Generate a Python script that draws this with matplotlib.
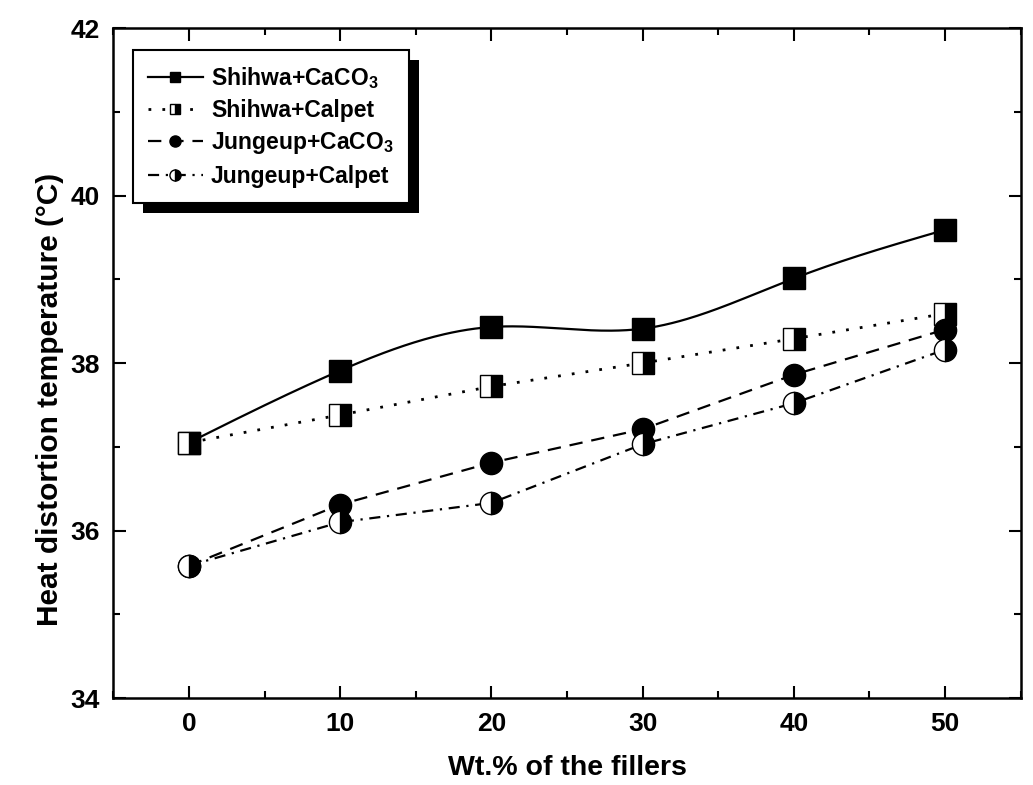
import numpy as np
import matplotlib
matplotlib.use("Agg")
import matplotlib.pyplot as plt
from matplotlib.patches import Rectangle

plt.rcParams['font.family'] = ['Liberation Sans', 'DejaVu Sans']
plt.rcParams['font.weight'] = 'bold'
plt.rcParams['mathtext.default'] = 'regular'

wt = [0, 10, 20, 30, 40, 50]
shihwa_caco3 = [37.05, 37.91, 38.43, 38.41, 39.01, 39.59]
shihwa_calpet = [37.05, 37.38, 37.72, 38.00, 38.29, 38.59]
jungeup_caco3 = [35.58, 36.31, 36.81, 37.21, 37.86, 38.40]
jungeup_calpet = [35.58, 36.10, 36.33, 37.03, 37.52, 38.16]

labels = [r'Shihwa+CaCO$_3$', 'Shihwa+Calpet', r'Jungeup+CaCO$_3$', 'Jungeup+Calpet']
x_ticks = [0, 10, 20, 30, 40, 50]
y_ticks = [34, 36, 38, 40, 42]


def natural_spline(x, y, n=300):
    x = np.asarray(x, float); y = np.asarray(y, float)
    m = len(x); h = np.diff(x)
    A = np.zeros((m, m)); b = np.zeros(m)
    A[0, 0] = A[-1, -1] = 1
    for i in range(1, m - 1):
        A[i, i - 1] = h[i - 1]; A[i, i] = 2 * (h[i - 1] + h[i]); A[i, i + 1] = h[i]
        b[i] = 3 * ((y[i + 1] - y[i]) / h[i] - (y[i] - y[i - 1]) / h[i - 1])
    c = np.linalg.solve(A, b)
    xs = np.linspace(x[0], x[-1], n); ys = np.empty_like(xs)
    for k, xv in enumerate(xs):
        i = min(np.searchsorted(x, xv, side='right') - 1, m - 2)
        dx = xv - x[i]
        bb = (y[i + 1] - y[i]) / h[i] - h[i] * (2 * c[i] + c[i + 1]) / 3
        d = (c[i + 1] - c[i]) / (3 * h[i])
        ys[k] = y[i] + bb * dx + c[i] * dx ** 2 + d * dx ** 3
    return xs, ys


fig = plt.figure(figsize=(10.33, 7.85), dpi=100)
ax = fig.add_axes([0.1098, 0.1108, 0.8782, 0.8535])

ms = 15.5
lw = 1.6
# Shihwa + CaCO3: smooth solid curve
sx, sy = natural_spline(wt, shihwa_caco3)
ax.plot(sx, sy, '-', color='black', lw=lw, zorder=2)
ax.plot(wt, shihwa_caco3, 's', color='black', ms=ms, zorder=3)
h1, = ax.plot([], [], '-s', color='black', lw=lw, ms=ms)

h2, = ax.plot(wt, shihwa_calpet, ':', marker='s', color='black', lw=2, ms=ms,
              dashes=(1, 4), fillstyle='right', markerfacecoloralt='white',
              markeredgecolor='black', zorder=3)
h3, = ax.plot(wt, jungeup_caco3, '--', marker='o', color='black', lw=lw, ms=ms + 0.5,
              dashes=(6, 4), zorder=3)
h4, = ax.plot(wt, jungeup_calpet, '-.', marker='o', color='black', lw=lw, ms=ms + 0.5,
              fillstyle='right', markerfacecoloralt='white', markeredgecolor='black',
              dashes=(5, 3, 1, 3), zorder=3)

ax.set_xlim(-5, 55)
ax.set_ylim(34, 42)
ax.set_xticks(x_ticks)
ax.set_yticks(y_ticks)
ax.set_xticks(np.arange(-5, 56, 5), minor=True)
ax.set_yticks(np.arange(34, 43, 1), minor=True)
ax.tick_params(which='both', direction='in', top=True, right=True, width=1.5)
ax.tick_params(which='major', length=9, labelsize=19, pad=10)
ax.tick_params(which='minor', length=5)
for sp in ax.spines.values():
    sp.set_linewidth(1.8)
for t in ax.get_xticklabels() + ax.get_yticklabels():
    t.set_fontweight('bold')

ax.set_xlabel('Wt.% of the fillers', fontsize=20.5, fontweight='bold')
ax.set_ylabel('Heat distortion temperature (°C)', fontsize=21.5, fontweight='bold')
ax.xaxis.set_label_coords(0.5, -0.085)
ax.yaxis.set_label_coords(-0.055, 0.445)

leg = ax.legend([h1, h2, h3, h4], labels, loc='upper left', bbox_to_anchor=(0.0216, 0.967),
                borderaxespad=0, fancybox=False, edgecolor='black', framealpha=1,
                markerscale=0.5, handlelength=2.4, handletextpad=0.35,
                prop={'size': 16.5, 'weight': 'bold'}, labelspacing=0.36, borderpad=0.65)
leg.get_frame().set_linewidth(1.5)
leg.set_zorder(10)

fig.canvas.draw()
bb = leg.get_window_extent().transformed(fig.transFigure.inverted())
dx, dy = 10 / 1033, 10 / 785
shadow = Rectangle((bb.x0 + dx, bb.y0 - dy), bb.width, bb.height, transform=fig.transFigure,
                   facecolor='black', edgecolor='none', zorder=9)
ax.add_artist(shadow)
shadow.set_clip_on(False)

fig.savefig('out.png', dpi=100)
